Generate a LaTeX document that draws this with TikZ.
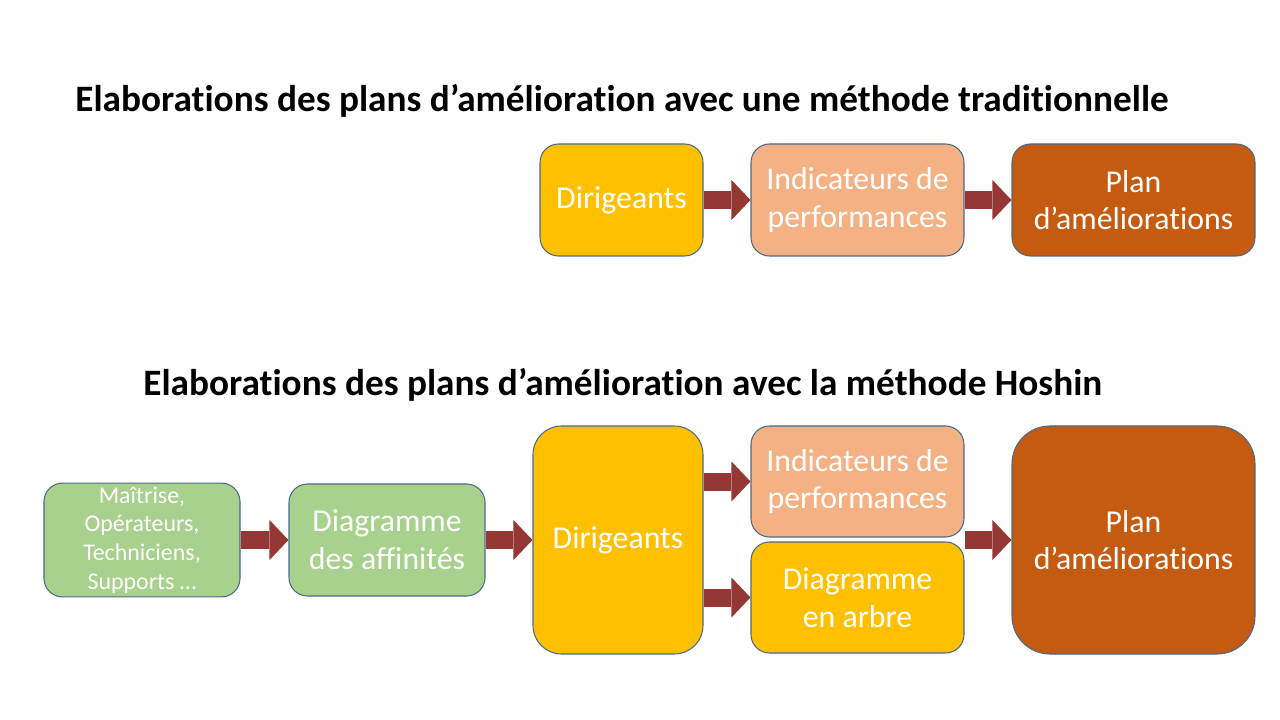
\documentclass[tikz,border=0pt]{standalone}
\usepackage{fontspec}
\setmainfont{Carlito}[Ligatures=NoCommon]
\usetikzlibrary{arrows.meta,positioning}
\definecolor{jaune}{HTML}{FFC000}
\definecolor{saumon}{HTML}{F4B183}
\definecolor{brun}{HTML}{C55A11}
\definecolor{vert}{HTML}{A9D18E}
\definecolor{fleche}{HTML}{953735}
\definecolor{contour}{HTML}{4A6A8A}
\tikzset{
  boite/.style={draw=contour,line width=0.6pt,rounded corners=3.7mm,minimum height=22.4mm,align=center,text=white,font=\fontsize{18.1}{21.5}\selectfont,inner sep=2pt},
  petit/.style={boite,font=\fontsize{13.6}{16.4}\selectfont},
  haute/.style={minimum height=45.6mm},
  titre/.style={anchor=west,inner sep=0pt,font=\fontsize{21.2}{25}\selectfont\bfseries},
  bloc/.style={draw=fleche,line width=3.6mm,-{Triangle[length=3.8mm,width=8mm,line width=0pt]}}
}
\begin{document}
\begin{tikzpicture}[x=0.2mm,y=-0.2mm]
\useasboundingbox (0,0) rectangle (1280,720);
% methode traditionnelle
\node[titre] (titre1) at (75,101) {Elaborations des plans d’amélioration avec une méthode traditionnelle};
\node[boite,fill=jaune,minimum width=32.6mm] (dir1) at (621.5,200) {Dirigeants};
\node[boite,fill=saumon,minimum width=42.6mm] (ind1) at (857.5,200) {Indicateurs de\\performances};
\node[boite,fill=brun,minimum width=48.6mm] (plan1) at (1133.5,200) {Plan\\d’améliorations};
\draw[bloc] (dir1) -- (ind1);
\draw[bloc] (ind1) -- (plan1);
% methode Hoshin
\node[titre] (titre2) at (143,385) {Elaborations des plans d’amélioration avec la méthode Hoshin};
\node[petit,fill=vert,minimum width=39.2mm] (acteurs) at (142,540) {Maîtrise,\\Opérateurs,\\Techniciens,\\Supports …};
\node[boite,fill=vert,minimum width=39.2mm] (affin) at (387,540) {Diagramme\\des affinités};
\node[boite,haute,fill=jaune,minimum width=34mm,rounded corners=5.7mm] (dir2) at (618,540) {Dirigeants};
\node[boite,fill=saumon,minimum width=42.6mm,minimum height=22.2mm] (ind2) at (857.5,481.5) {Indicateurs de\\performances};
\node[boite,fill=jaune,minimum width=42.6mm,minimum height=22.2mm] (arbre) at (857.5,597.5) {Diagramme\\en arbre};
\node[boite,haute,fill=brun,minimum width=48.6mm,rounded corners=7.6mm] (plan2) at (1133.5,540) {Plan\\d’améliorations};
\draw[bloc] (acteurs) -- (affin);
\draw[bloc] (affin) -- (dir2);
\draw[bloc] (dir2.east |- ind2.west) -- (ind2.west);
\draw[bloc] (dir2.east |- arbre.west) -- (arbre.west);
\draw[bloc] (ind2.east |- plan2.west) -- (plan2.west);
\end{tikzpicture}
\end{document}
